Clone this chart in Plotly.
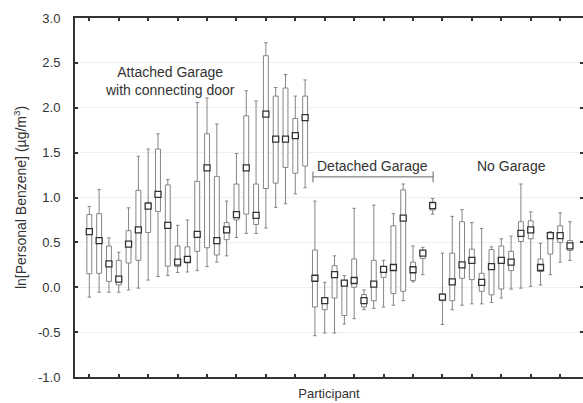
import plotly.graph_objects as go

# Participants 1..50: 1-23 attached garage, 24-36 detached garage, 37-50 no garage
participants = list(range(1, 51))

upper = [0.90, 1.09, 0.55, 0.39, 0.885, 1.46, 1.54, 1.71, 1.20, 0.69, 0.75, 2.06, 2.11, 1.82, 0.96, 1.49, 2.19, 2.075, 2.725, 2.225, 2.37, 2.13, 2.31,
         0.96, 0.055, 0.35, 0.13, 0.88, -0.03, 0.915, 0.30, 0.82, 1.15, 0.46, 0.445, 0.99,
         0.38, 0.79, 0.865, 0.72, 0.655, 0.45, 0.54, 0.57, 1.15, 0.84, 0.49, 0.62, 0.83, 0.73]
q3 = [0.81, 0.82, 0.46, 0.30, 0.63, 1.08, 0.945, 1.54, 1.14, 0.46, 0.45, 1.18, 1.71, 1.235, 0.72, 1.15, 1.91, 1.15, 2.58, 2.13, 2.22, 1.88, 2.13,
      0.415, -0.12, 0.24, 0.075, 0.315, -0.08, 0.30, 0.23, 0.685, 1.085, 0.28, 0.41, 0.95,
      -0.075, 0.38, 0.73, 0.425, 0.155, 0.42, 0.46, 0.40, 0.73, 0.74, 0.315, 0.61, 0.685, 0.52]
median = [0.62, 0.52, 0.26, 0.09, 0.48, 0.64, 0.905, 1.035, 0.69, 0.28, 0.31, 0.59, 1.33, 0.52, 0.64, 0.81, 1.33, 0.80, 1.93, 1.65, 1.65, 1.69, 1.89,
          0.10, -0.15, 0.14, 0.045, 0.075, -0.15, 0.035, 0.20, 0.22, 0.77, 0.195, 0.38, 0.91,
          -0.11, 0.06, 0.25, 0.30, 0.055, 0.23, 0.30, 0.28, 0.60, 0.64, 0.22, 0.575, 0.575, 0.46]
q1 = [0.15, 0.155, 0.065, 0.025, 0.27, 0.30, 0.61, 0.845, 0.235, 0.23, 0.27, 0.40, 0.44, 0.36, 0.53, 0.75, 0.815, 0.70, 1.10, 1.16, 1.335, 1.27, 1.35,
      -0.22, -0.25, -0.12, -0.315, 0.0, -0.22, -0.15, 0.11, -0.07, -0.045, 0.075, 0.32, 0.86,
      -0.15, -0.15, 0.10, 0.085, -0.045, -0.085, -0.02, 0.185, 0.51, 0.54, 0.175, 0.37, 0.50, 0.41]
lower = [-0.11, -0.055, -0.055, -0.055, -0.03, -0.01, 0.08, 0.12, 0.13, 0.165, 0.17, 0.185, 0.23, 0.28, 0.35, 0.555, 0.60, 0.60, 0.66, 0.89, 0.93, 1.04, 1.11,
         -0.54, -0.51, -0.51, -0.41, -0.35, -0.25, -0.235, -0.22, -0.20, -0.15, 0.06, 0.14, 0.815,
         -0.415, -0.25, -0.20, -0.185, -0.185, -0.17, -0.12, -0.02, -0.01, 0.01, 0.025, 0.14, 0.28, 0.30]

y_tick_vals = [-1.0, -0.5, 0.0, 0.5, 1.0, 1.5, 2.0, 2.5, 3.0]
y_tick_text = ["-1.0", "-0.5", "0.0", "0.5", "1.0", "1.5", "2.0", "2.5", "3.0"]
x_tick_vals = list(range(1, 51, 3))

FONT = "Liberation Sans, Arial, sans-serif"
TXT = "#333333"

fig = go.Figure()
fig.add_trace(go.Box(
    x=participants, q1=q1, median=median, q3=q3,
    lowerfence=lower, upperfence=upper,
    boxpoints=False, width=0.5, whiskerwidth=0.7,
    fillcolor="white", line=dict(color="#858585", width=1),
    showlegend=False, hoverinfo="skip",
))
fig.add_trace(go.Scatter(
    x=participants, y=median, mode="markers",
    marker=dict(symbol="square", size=6, color="white",
                line=dict(color="#333333", width=1.3)),
    showlegend=False, hoverinfo="skip",
))

ann_font = dict(family=FONT, size=14, color=TXT)
fig.add_annotation(x=9.2, y=2.3, xref="x", yref="y", text="Attached Garage<br>with connecting door",
                   showarrow=False, font=ann_font)
fig.add_annotation(x=29.9, y=1.35, xref="x", yref="y", text="Detached Garage",
                   showarrow=False, font=ann_font)
fig.add_annotation(x=44.0, y=1.35, xref="x", yref="y", text="No Garage",
                   showarrow=False, font=ann_font)

bl = dict(color="#666666", width=1)
fig.add_shape(type="line", x0=23.8, x1=36.05, y0=1.23, y1=1.23, xref="x", yref="y", line=bl)
fig.add_shape(type="line", x0=23.8, x1=23.8, y0=1.17, y1=1.29, xref="x", yref="y", line=bl)
fig.add_shape(type="line", x0=36.05, x1=36.05, y0=1.17, y1=1.29, xref="x", yref="y", line=bl)

fig.update_layout(
    width=583, height=403,
    margin=dict(l=75, r=0, t=18, b=26),
    paper_bgcolor="white", plot_bgcolor="white",
    font=dict(family=FONT, size=13, color=TXT),
    xaxis=dict(range=[-0.46, 51.33], tickvals=x_tick_vals, showticklabels=False,
               ticks="inside", ticklen=3, tickwidth=2, tickcolor="#333333",
               showline=True, linewidth=2, linecolor="#333333", mirror="ticks",
               showgrid=False, zeroline=False, automargin=False,
               title=dict(text="Participant", standoff=11, font=dict(size=13))),
    yaxis=dict(range=[-1.0, 3.0], tickvals=y_tick_vals, ticktext=y_tick_text,
               ticks="inside", ticklen=3, tickwidth=2, tickcolor="#333333",
               showline=True, linewidth=2, linecolor="#333333", mirror="ticks",
               showgrid=True, gridcolor="#efefef", gridwidth=1, zeroline=False,
               ticklabelstandoff=10, automargin=False,
               title=dict(text="ln[Personal Benzene] (µg/m<sup>3</sup>)", standoff=8,
                          font=dict(size=14))),
)

fig.write_html("out.html", config={"displayModeBar": False},
               post_script="document.body.style.margin='0';document.body.style.overflow='hidden';")
